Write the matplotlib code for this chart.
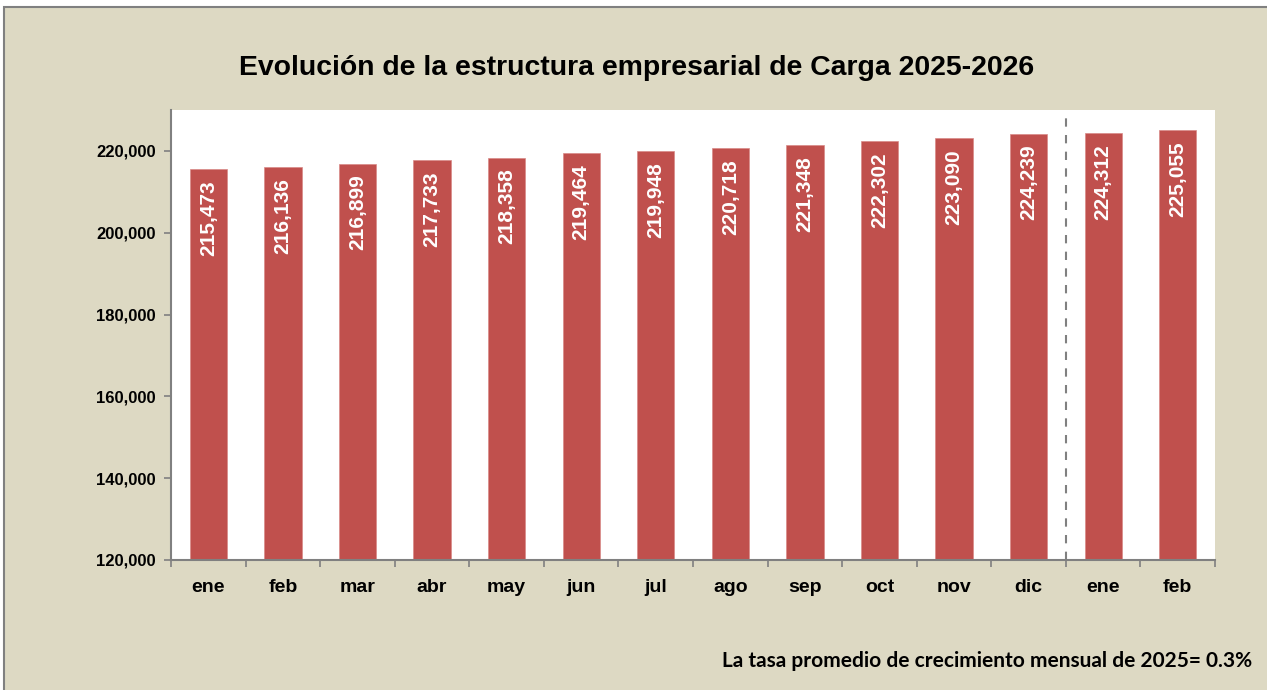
import matplotlib.pyplot as plt
from matplotlib.patches import Rectangle

# Data
months = ['ene', 'feb', 'mar', 'abr', 'may', 'jun', 'jul', 'ago', 'sep', 'oct', 'nov', 'dic', 'ene', 'feb']
values = [215473, 216136, 216899, 217733, 218358, 219464, 219948, 220718, 221348, 222302, 223090, 224239, 224312, 225055]
yticks = [120000, 140000, 160000, 180000, 200000, 220000]
title = 'Evolución de la estructura empresarial de Carga 2025-2026'
note = 'La tasa promedio de crecimiento mensual de 2025= 0.3%'

bg = '#DDD9C3'
bar_color = '#C0504D'
gray = '#808080'

fig = plt.figure(figsize=(12.67, 6.9), dpi=100, facecolor='white')

# beige panel with gray border (right and bottom edges fall outside the picture)
fig.patches.append(Rectangle((4 / 1267, -0.05), 1.0, 1.05 - 7 / 690, transform=fig.transFigure,
                             facecolor=bg, edgecolor=gray, linewidth=1.5, zorder=-10))

ax = fig.add_axes([171 / 1267, 1 - 560 / 690, (1215 - 171) / 1267, (560 - 110) / 690])
ax.set_facecolor('white')

x = list(range(len(months)))
ax.bar(x, values, width=0.5, color=bar_color, edgecolor='#D88A88', linewidth=0.5, zorder=2)

for xi, v in zip(x, values):
    ax.annotate(f'{v:,}', xy=(xi, v), xytext=(0, -8), textcoords='offset points',
                rotation=90, ha='center', va='top', color='white',
                fontsize=15, fontweight='bold', family=['Liberation Sans Narrow', 'Liberation Sans'],
                zorder=3)

# separator between 2025 and 2026
ax.axvline(11.5, color=gray, linestyle=(0, (4, 4)), linewidth=1.5, zorder=1)

ax.set_xlim(-0.5, len(months) - 0.5)
ax.set_ylim(120000, 230000)

ax.set_yticks(yticks)
ax.set_yticklabels([f'{t:,}' for t in yticks], fontsize=12, fontweight='bold',
                   family='Liberation Sans')
ax.tick_params(axis='y', direction='out', length=5, color=gray, width=1.2, pad=6)

ax.set_xticks(x)
ax.set_xticklabels(months, fontsize=14, fontweight='bold', family='Liberation Sans')
ax.tick_params(axis='x', which='major', length=0, pad=14)
ax.set_xticks([i - 0.5 for i in range(len(months) + 1)], minor=True)
ax.tick_params(axis='x', which='minor', direction='out', length=5, color=gray, width=1.2)

for side in ['top', 'right']:
    ax.spines[side].set_visible(False)
for side in ['left', 'bottom']:
    ax.spines[side].set_color(gray)
    ax.spines[side].set_linewidth(1.5)

fig.text(637 / 1267, 1 - 68 / 690, title, ha='center', va='center',
         fontsize=20.4, fontweight='bold', family='Liberation Sans')
fig.text(1252 / 1267, 1 - 661 / 690, note, ha='right', va='center',
         fontsize=15, fontweight='bold', family=['Lato', 'DejaVu Sans'])

fig.savefig('out.png', dpi=100, facecolor=fig.get_facecolor())
